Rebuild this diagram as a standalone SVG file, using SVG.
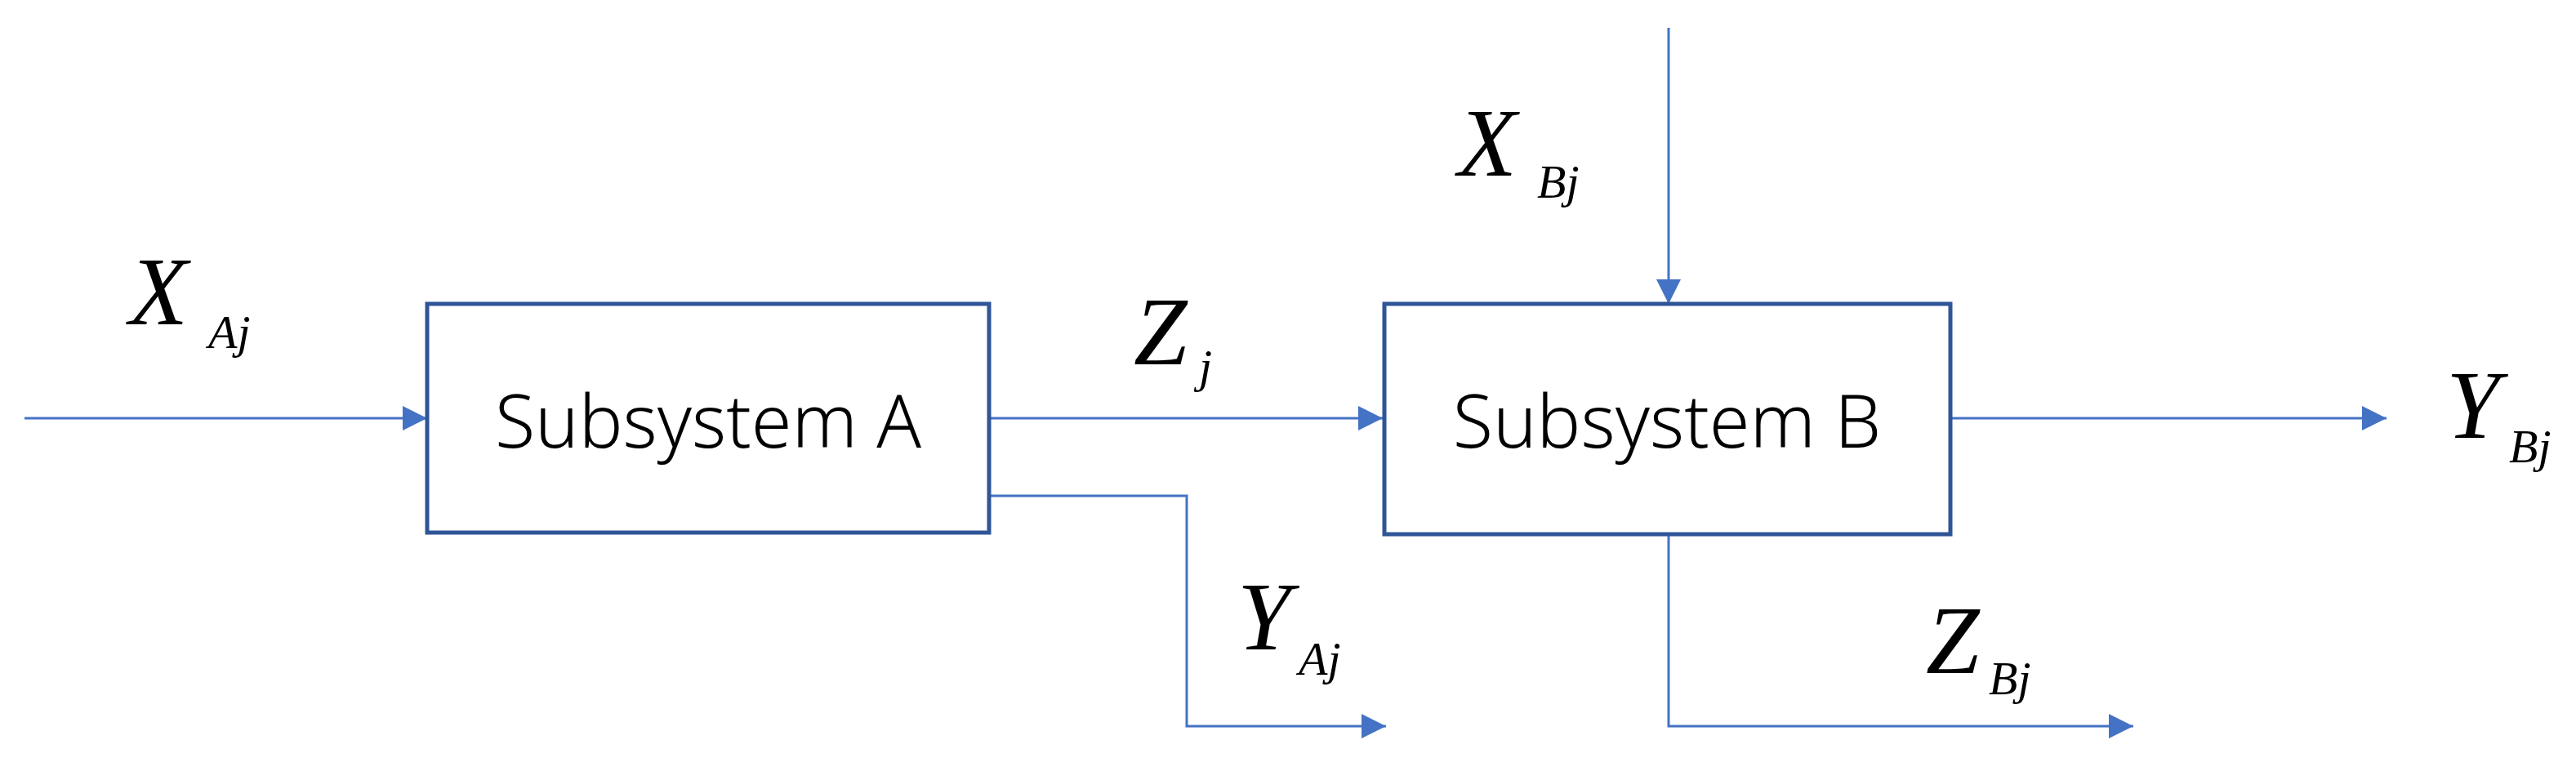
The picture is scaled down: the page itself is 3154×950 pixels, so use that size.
<svg xmlns="http://www.w3.org/2000/svg" width="3154" height="950" viewBox="0 0 3154 950">
<style>
.box{fill:#fff;stroke:#2F5597;stroke-width:5}
.lbl{font-family:"Noto Sans",sans-serif;font-weight:300;font-size:90px;fill:#000;text-anchor:middle}
.c{fill:none;stroke:#4472C4;stroke-width:3}
.m{font-family:"Liberation Serif",serif;font-style:italic;fill:#000}
.big{font-size:118px}
.sub{font-size:58px}
</style>
<defs>
<marker id="a" viewBox="0 0 10 10" refX="10" refY="5" markerWidth="30" markerHeight="32" markerUnits="userSpaceOnUse" orient="auto">
<path d="M0,0 L10,5 L0,10 z" fill="#4472C4"/>
</marker>
</defs>
<g id="connectors">
<path class="c" d="M30,512 H523" marker-end="url(#a)"/>
<path class="c" d="M1211,512 H1693" marker-end="url(#a)"/>
<path class="c" d="M2043,34 V372" marker-end="url(#a)"/>
<path class="c" d="M2388,512 H2922" marker-end="url(#a)"/>
<path class="c" d="M1211,607 H1453 V889 H1697" marker-end="url(#a)"/>
<path class="c" d="M2043,654 V889 H2612" marker-end="url(#a)"/>
</g>
<g id="subsystemA">
<rect class="box" x="523" y="372" width="688" height="280"/>
<text class="lbl" x="867" y="548">Subsystem A</text>
</g>
<g id="subsystemB">
<rect class="box" x="1695" y="372" width="693" height="282"/>
<text class="lbl" x="2041" y="548">Subsystem B</text>
</g>
<g id="labels">
<text class="m big" x="158" y="397">X</text><text class="m sub" x="255" y="426">Aj</text>
<text class="m big" x="1388" y="446">Z</text><text class="m sub" x="1468" y="468">j</text>
<text class="m big" x="1785" y="215">X</text><text class="m sub" x="1882" y="242">Bj</text>
<text class="m big" x="1515" y="795">Y</text><text class="m sub" x="1590" y="826">Aj</text>
<text class="m big" x="2358" y="824">Z</text><text class="m sub" x="2435" y="850">Bj</text>
<text class="m big" x="2995" y="536">Y</text><text class="m sub" x="3072" y="566">Bj</text>
</g>
</svg>
